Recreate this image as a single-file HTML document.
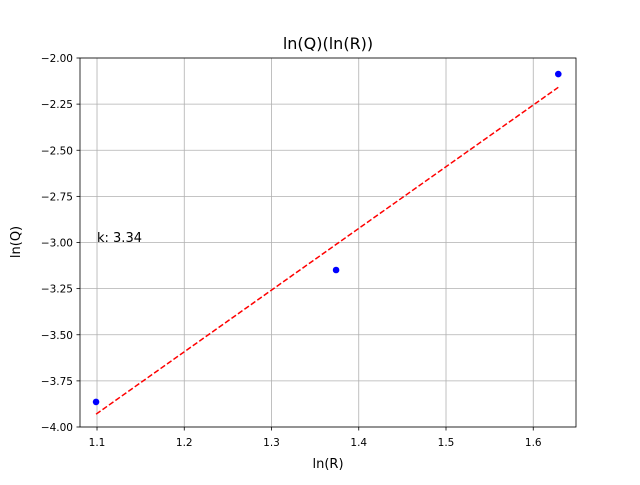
<!DOCTYPE html>
<html><head><meta charset="utf-8"><style>
body{margin:0;background:#fff}
svg text{font-family:"DejaVu Sans","Liberation Sans",sans-serif;fill:#000}
</style></head><body>
<svg id="chart" width="640" height="480" xmlns="http://www.w3.org/2000/svg">
<rect width="640" height="480" fill="#fff"/>
<g id="grid"></g><g id="ticks"></g><g id="marks"></g>
<rect x="80" y="58" width="496" height="369" fill="none" stroke="#000" stroke-width="0.8"/>
<text x="328" y="49" text-anchor="middle" font-size="16">ln(Q)(ln(R))</text>
<text x="328" y="468" text-anchor="middle" font-size="13">ln(R)</text>
<text transform="translate(20,242) rotate(-90)" text-anchor="middle" font-size="13">ln(Q)</text>
<text x="97" y="242" font-size="13">k: 3.34</text>
</svg>
<script>
const xData=[1.0989,1.374,1.6287];
const yData=[-3.864,-3.149,-2.087];
const xTicks=[1.1,1.2,1.3,1.4,1.5,1.6];
const yTicks=[-2.0,-2.25,-2.5,-2.75,-3.0,-3.25,-3.5,-3.75,-4.0];
const X0=1.0805,X1=1.649,Y0=-4.0,Y1=-2.0;
function sx(v){return 80+(v-X0)/(X1-X0)*496;}
function sy(v){return 427-(v-Y0)/(Y1-Y0)*369;}
const NS="http://www.w3.org/2000/svg";
function mk(p,t,a){const e=document.createElementNS(NS,t);for(const k in a)e.setAttribute(k,a[k]);document.getElementById(p).appendChild(e);return e;}
xTicks.forEach(v=>{const x=sx(v);
 let g=mk('grid','line',{x1:x,x2:x,y1:58,y2:427,stroke:'#b0b0b0','stroke-width':0.8});
 
 
 let t=mk('ticks','line',{x1:x,x2:x,y1:427,y2:430.5,stroke:'#000','stroke-width':0.8});
 
 
 let l=mk('ticks','text',{x:x,y:446,'text-anchor':'middle','font-size':10.5});l.textContent=v.toFixed(1);
 
 
});
yTicks.forEach(v=>{const y=sy(v);
 let g=mk('grid','line',{x1:80,x2:576,y1:y,y2:y,stroke:'#b0b0b0','stroke-width':0.8});
 
 
 let t=mk('ticks','line',{x1:76.5,x2:80,y1:y,y2:y,stroke:'#000','stroke-width':0.8});
 
 
 let l=mk('ticks','text',{x:73,y:y+4,'text-anchor':'end','font-size':10.5});l.textContent=v.toFixed(2).replace('-','\u2212');
 
 
});
const n=xData.length,mx=xData.reduce((a,b)=>a+b)/n,my=yData.reduce((a,b)=>a+b)/n;
let sxy=0,sxx=0;for(let i=0;i<n;i++){sxy+=(xData[i]-mx)*(yData[i]-my);sxx+=(xData[i]-mx)**2;}
const k=sxy/sxx,b=my-k*mx;
const xa=Math.min(...xData),xb=Math.max(...xData);
let fl=mk('marks','line',{x1:sx(xa),y1:sy(k*xa+b),x2:sx(xb),y2:sy(k*xb+b),stroke:'#ff0000','stroke-width':1.5,'stroke-dasharray':'5.5,2.4'});


xData.forEach((v,i)=>{let c=mk('marks','circle',{cx:sx(v),cy:sy(yData[i]),r:3.3,fill:'#0000ff'});
 
 
});
</script>
</body></html>
